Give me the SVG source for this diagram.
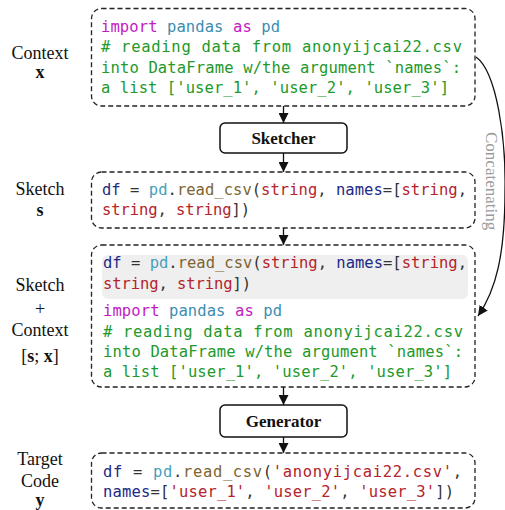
<svg xmlns="http://www.w3.org/2000/svg" width="505" height="510" viewBox="0 0 505 510">
<defs>
<style>
.code{font-family:"DejaVu Sans Mono","Liberation Mono",monospace;font-size:15.5px;white-space:pre;fill:#333}
.kw{fill:#c21bc2}.mod{fill:#3b8eb0}.cm{fill:#22992b}.var{fill:#1c2a88}.fn{fill:#7d6431}.str{fill:#b3242b}.pd{fill:#45a0bb}
.box{fill:#fff;stroke:#222;stroke-width:1.3;stroke-dasharray:5 3}
.mod-box{fill:#fff;stroke:#111;stroke-width:1.5}
.lbl{font-family:"Liberation Serif","Times New Roman",serif;font-size:18px;fill:#111;text-anchor:middle}
.b{font-weight:bold}
.mtitle{font-family:"Liberation Serif","Times New Roman",serif;font-size:17px;font-weight:bold;fill:#111;text-anchor:middle}
.conn{fill:none;stroke:#111;stroke-width:1.3}
</style>
<marker id="ah" markerUnits="userSpaceOnUse" markerWidth="10" markerHeight="10" viewBox="0 0 10 10" refX="10" refY="5" orient="auto">
<path d="M0,0 L10,5 L0,10 z" fill="#111"/>
</marker>
</defs>

<g id="connectors">
<line class="conn" x1="283.5" y1="106" x2="283.5" y2="123" marker-end="url(#ah)"/>
<line class="conn" x1="283.5" y1="153" x2="283.5" y2="172" marker-end="url(#ah)"/>
<line class="conn" x1="283.5" y1="228" x2="283.5" y2="245" marker-end="url(#ah)"/>
<line class="conn" x1="283.5" y1="387" x2="283.5" y2="405" marker-end="url(#ah)"/>
<line class="conn" x1="283.5" y1="437" x2="283.5" y2="453" marker-end="url(#ah)"/>
<path class="conn" d="M476,57 C497,72 506,140 505,190 C505,255 496,290 478,316" marker-end="url(#ah)"/>
<text transform="translate(486,132) rotate(90)" font-family="Liberation Serif,Times New Roman,serif" font-size="17" fill="#9a9a9a">Concatenating</text>
</g>

<g id="context">
<rect class="box" x="91.5" y="8.5" width="383.5" height="97.5" rx="10"/>
<text class="code" x="101" y="31.5" textLength="179" lengthAdjust="spacing"><tspan class="kw">import</tspan> <tspan class="mod">pandas</tspan> <tspan class="kw">as</tspan> <tspan class="mod">pd</tspan></text>
<text class="code cm" x="101" y="52" textLength="361" lengthAdjust="spacing"># reading data from anonyijcai22.csv</text>
<text class="code cm" x="101" y="72.5" textLength="360" lengthAdjust="spacing">into DataFrame w/the argument `names`:</text>
<text class="code cm" x="101" y="93" textLength="348" lengthAdjust="spacing">a list ['user_1', 'user_2', 'user_3']</text>
<text class="lbl" x="40" y="59">Context</text>
<text class="lbl b" x="40" y="78">x</text>
</g>

<g id="sketcher">
<rect class="mod-box" x="220" y="123" width="127" height="30" rx="5"/>
<text class="mtitle" x="283.5" y="143.5">Sketcher</text>
</g>

<g id="sketch">
<rect class="box" x="91.5" y="172" width="383.5" height="56" rx="10"/>
<text class="code" x="102" y="195" textLength="365" lengthAdjust="spacing"><tspan class="var">df</tspan> = <tspan class="pd">pd</tspan>.<tspan class="fn">read_csv</tspan>(<tspan class="str">string</tspan>, <tspan class="var">names</tspan>=[<tspan class="str">string</tspan>,</text>
<text class="code" x="102" y="215" textLength="148" lengthAdjust="spacing"><tspan class="str">string</tspan>, <tspan class="str">string</tspan>])</text>
<text class="lbl" x="40" y="195">Sketch</text>
<text class="lbl b" x="40" y="216">s</text>
</g>

<g id="sketch-context">
<rect class="box" x="91.5" y="245" width="383.5" height="142" rx="10"/>
<rect x="102" y="255" width="366" height="44" rx="6" fill="#efefef"/>
<text class="code" x="103" y="268" textLength="364" lengthAdjust="spacing"><tspan class="var">df</tspan> = <tspan class="pd">pd</tspan>.<tspan class="fn">read_csv</tspan>(<tspan class="str">string</tspan>, <tspan class="var">names</tspan>=[<tspan class="str">string</tspan>,</text>
<text class="code" x="103" y="289" textLength="148" lengthAdjust="spacing"><tspan class="str">string</tspan>, <tspan class="str">string</tspan>])</text>
<text class="code" x="103" y="316" textLength="179" lengthAdjust="spacing"><tspan class="kw">import</tspan> <tspan class="mod">pandas</tspan> <tspan class="kw">as</tspan> <tspan class="mod">pd</tspan></text>
<text class="code cm" x="103" y="337" textLength="360" lengthAdjust="spacing"># reading data from anonyijcai22.csv</text>
<text class="code cm" x="103" y="357" textLength="360" lengthAdjust="spacing">into DataFrame w/the argument `names`:</text>
<text class="code cm" x="103" y="377" textLength="349" lengthAdjust="spacing">a list ['user_1', 'user_2', 'user_3']</text>
<text class="lbl" x="40" y="291">Sketch</text>
<text class="lbl" x="40" y="315">+</text>
<text class="lbl" x="40" y="336">Context</text>
<text class="lbl" x="40" y="362">[<tspan class="b">s</tspan>; <tspan class="b">x</tspan>]</text>
</g>

<g id="generator">
<rect class="mod-box" x="220" y="405" width="127" height="32" rx="5"/>
<text class="mtitle" x="283.5" y="426.5">Generator</text>
</g>

<g id="target">
<rect class="box" x="91.5" y="453" width="383.5" height="55" rx="10"/>
<text class="code" x="103" y="477" textLength="359" lengthAdjust="spacing"><tspan class="var">df</tspan> = <tspan class="pd">pd</tspan>.<tspan class="fn">read_csv</tspan>(<tspan class="str">'anonyijcai22.csv'</tspan>,</text>
<text class="code" x="103" y="497" textLength="351" lengthAdjust="spacing"><tspan class="var">names</tspan>=[<tspan class="str">'user_1'</tspan>, <tspan class="str">'user_2'</tspan>, <tspan class="str">'user_3'</tspan>])</text>
<text class="lbl" x="40" y="465">Target</text>
<text class="lbl" x="40" y="487">Code</text>
<text class="lbl b" x="40" y="506">y</text>
</g>
</svg>
